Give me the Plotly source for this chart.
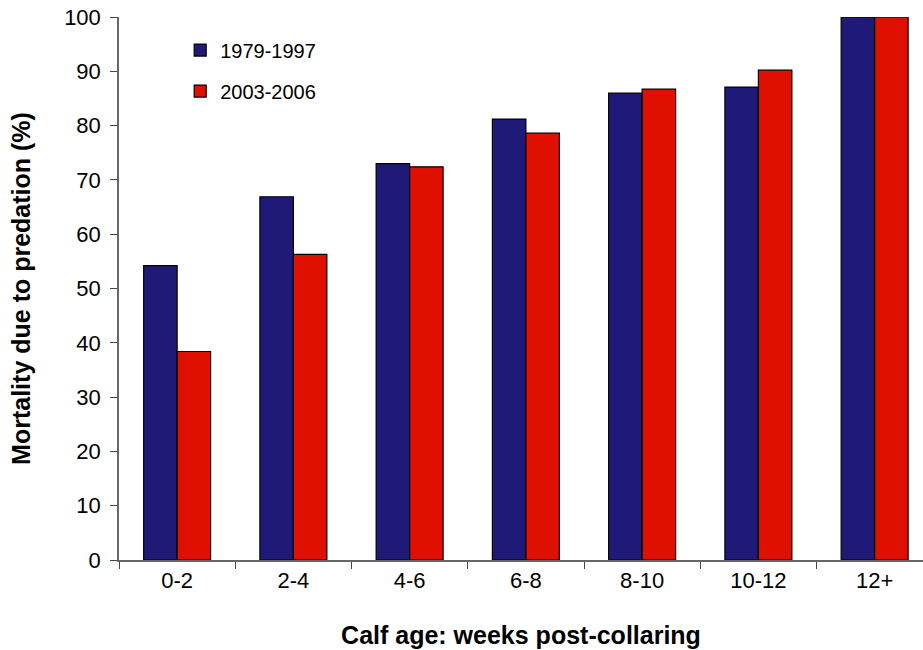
import plotly.graph_objects as go

categories = ["0-2", "2-4", "4-6", "6-8", "8-10", "10-12", "12+"]
series_1979 = [54.2, 66.9, 73.0, 81.2, 86.0, 87.1, 100.0]
series_2003 = [38.4, 56.3, 72.4, 78.6, 86.7, 90.2, 100.0]
y_ticks = [0, 10, 20, 30, 40, 50, 60, 70, 80, 90, 100]

FONT = "Liberation Sans, Arial, sans-serif"

fig = go.Figure()
fig.add_trace(go.Bar(name="1979-1997", x=categories, y=series_1979,
                     marker=dict(color="#1F1A78", line=dict(color="black", width=1.2)),
                     legendgroup="a"))
fig.add_trace(go.Bar(name="2003-2006", x=categories, y=series_2003,
                     marker=dict(color="#E01000", line=dict(color="black", width=1.2)),
                     legendgroup="b"))

fig.update_layout(
    width=923, height=650,
    margin=dict(l=119, r=0, t=17, b=90),
    plot_bgcolor="white", paper_bgcolor="white",
    barmode="group", bargap=0.424, bargroupgap=0,
    font=dict(family=FONT, size=22, color="black"),
    showlegend=True,
    legend=dict(x=0.0761, y=0.975, xanchor="left", yanchor="top",
                font=dict(size=20, family=FONT), bgcolor="rgba(0,0,0,0)",
                tracegroupgap=12, traceorder="grouped", itemwidth=30),
    xaxis=dict(type="category", range=[-0.5, 6.416], showline=True, linecolor="#666", linewidth=1.5,
               ticks="outside", tickson="boundaries", ticklen=7, tickcolor="#444",
               showgrid=False, zeroline=False,
               title=dict(text="<b>Calf age: weeks post-collaring</b>", font=dict(size=25), standoff=34),
               tickfont=dict(size=22)),
    yaxis=dict(range=[0, 100], tickvals=y_ticks, showline=True, linecolor="#666", linewidth=1.5,
               ticks="outside", ticklen=7, tickcolor="#444", showgrid=False, zeroline=False,
               ticklabelstandoff=5,
               title=dict(text="<b>Mortality due to predation (%)</b>", font=dict(size=25), standoff=26),
               tickfont=dict(size=22)),
)

fig.write_html("out.html")
